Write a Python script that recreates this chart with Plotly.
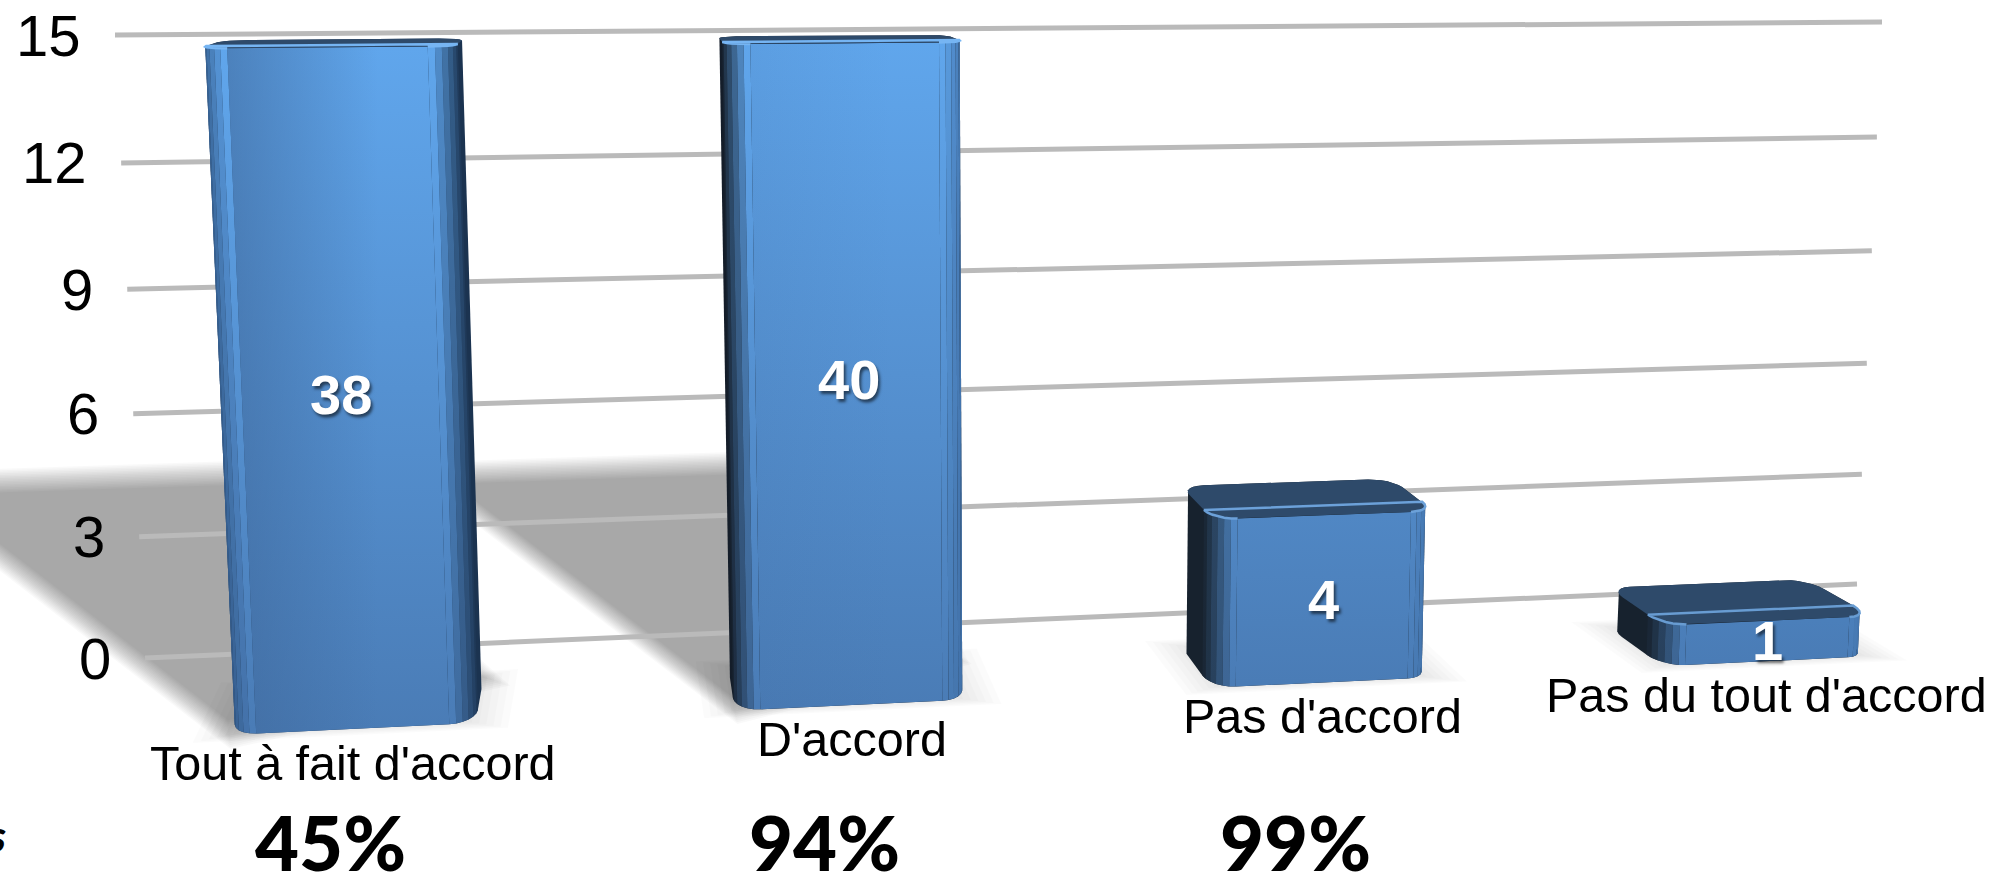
import numpy as np
import plotly.graph_objects as go

# Chart data
categories = ["Tout à fait d'accord", "D'accord", "Pas d'accord", "Pas du tout d'accord"]
values = [38, 40, 4, 1]
tick_values = [0, 3, 6, 9, 12, 15]
shares = ["45%", "94%", "99%"]

AXIS_MAX = 15
W_PX, H_PX = 2012, 872

# Perspective camera: wall corners on the page plus the vanishing point of the depth axis
WALL = {(0, 1): (115, 35), (1, 1): (1882, 22), (0, 0): (145, 658), (1, 0): (1857, 584)}
VP = (616, -92)
D_BACK, D_FRONT = 0.045, 0.10
BAR_HALF = 0.06
R_U, R_D = 0.013, 0.015


def solve_wall():
    rows, rhs = [], []
    for (u, v), (x, y) in WALL.items():
        rows.append([u, v, 1, 0, 0, 0, -u * x, -v * x]); rhs.append(x)
        rows.append([0, 0, 0, u, v, 1, -u * y, -v * y]); rhs.append(y)
    return np.append(np.linalg.solve(np.array(rows, float), np.array(rhs, float)), 1).reshape(3, 3)


H = solve_wall()


def project(u, value, d=0.0):
    X, Y, W = H @ np.array([u, value / AXIS_MAX, 1.0])
    return (X - VP[0] * d) / (W - d), (Y - VP[1] * d) / (W - d)


def hex_rgb(c):
    return np.array([int(c[i:i + 2], 16) for i in (1, 3, 5)], float)


def mix(a, b, t):
    r = hex_rgb(a) * (1 - t) + hex_rgb(b) * t
    return "#%02x%02x%02x" % tuple(int(round(c)) for c in r)


def hull(points):
    pts = sorted(set(points))

    def half(seq):
        out = []
        for p in seq:
            while len(out) > 1 and (out[-1][0] - out[-2][0]) * (p[1] - out[-2][1]) - (out[-1][1] - out[-2][1]) * (p[0] - out[-2][0]) <= 0:
                out.pop()
            out.append(p)
        return out[:-1]

    return half(pts) + half(pts[::-1])


fig = go.Figure()


def poly(points, color=None, grad=None, opacity=None, line=None):
    xs = [p[0] for p in points] + [points[0][0]]
    ys = [p[1] for p in points] + [points[0][1]]
    kw = dict(x=xs, y=ys, mode="lines", fill="toself", line=dict(width=0), hoverinfo="skip", showlegend=False)
    if color:
        kw["fillcolor"] = color
    if grad:
        kw["fillgradient"] = grad
    fig.add_trace(go.Scatter(**kw))


def soft_poly(points, total_alpha, spread, layers=16):
    """Blurred polygon, built from nested translucent copies."""
    cx = np.mean([p[0] for p in points])
    cy = np.mean([p[1] for p in points])
    alpha = 1 - (1 - total_alpha) ** (1 / layers)
    for s in np.linspace(1 + spread, 1 - spread, layers):
        poly([(cx + (x - cx) * s, cy + (y - cy) * s) for x, y in points], color=f"rgba(0,0,0,{alpha:.4f})")


def floor_pt(u, d):
    return project(u, 0, d)


centres = [(i + 0.5) / len(categories) for i in range(len(categories))]

# Cast shadows of the two tall bars: far-left corner on the floor and width of the far edge
shadow_far = {0: (-0.247, -0.33, 0.24), 1: (0.117, -0.314, 0.22)}
for i, (fu, fd, fw) in shadow_far.items():
    c = centres[i]
    pts = [floor_pt(c - BAR_HALF, D_FRONT), floor_pt(fu, fd), floor_pt(fu + fw, fd), floor_pt(c + BAR_HALF, D_BACK)]
    soft_poly(pts, 0.31, 0.10)

# Ambient contact shadow below each bar
for c in centres:
    pts = [floor_pt(c - BAR_HALF, D_BACK), floor_pt(c + BAR_HALF, D_BACK),
           floor_pt(c + BAR_HALF, D_FRONT), floor_pt(c - BAR_HALF, D_FRONT)]
    soft_poly(pts, 0.14, 0.28, layers=10)

# Gridlines
for t in tick_values:
    x0, y0 = project(0, t)
    x1, y1 = project(1, t)
    fig.add_trace(go.Scatter(x=[x0, x1], y=[y0, y1], mode="lines", hoverinfo="skip", showlegend=False,
                             line=dict(color="#bababa", width=5)))

# Bars
FRONT_TOP, FRONT_BOTTOM = "#60a6ec", "#4a7cb6"
TOP_FACE = "#2e4a6a"
left_edge = ["#2f5482", "#131c27", "#16212d", "#16212d"]
right_edge = ["#1b3350", "#3f6ea5", "#3f6ea5", "#3f6ea5"]
side_fill = ["#1b3350", "#141d29", "#17222e", "#17222e"]
left_shade = [0.55, 0.12, 0.0, 0.0]


def arc(cu, cd, a0, a1, n=7):
    return [(cu + R_U * np.cos(a), cd + R_D * np.sin(a)) for a in np.linspace(a0, a1, n)]


def vertical(c_top, c_bot, y_top, y_bot):
    return dict(type="vertical", start=y_top, stop=y_bot, colorscale=[[0, c_top], [1, c_bot]])


for i, (c, val) in enumerate(zip(centres, values)):
    top = min(val, AXIS_MAX)
    uL, uR = c - BAR_HALF, c + BAR_HALF
    c_top = mix(FRONT_BOTTOM, FRONT_TOP, top / AXIS_MAX)

    a_bl = arc(uL + R_U, D_BACK + R_D, np.pi, 1.5 * np.pi)
    a_br = arc(uR - R_U, D_BACK + R_D, 1.5 * np.pi, 2 * np.pi)
    a_fr = arc(uR - R_U, D_FRONT - R_D, 0, 0.5 * np.pi)
    a_fl = arc(uL + R_U, D_FRONT - R_D, 0.5 * np.pi, np.pi)
    outline = a_bl + a_br + a_fr + a_fl

    # Silhouette of the extruded rounded footprint
    sil = hull([project(u, 0, d) for u, d in outline] + [project(u, top, d) for u, d in outline])
    poly(sil, color=side_fill[i])

    y_top = project(c, top, D_FRONT)[1]
    y_bot = project(c, 0, D_FRONT)[1]

    # Rounded vertical edges, painted from the side towards the front
    for arc_pts, edge in ((a_fl[::-1], left_edge[i]), (a_fr, right_edge[i])):
        for k in range(len(arc_pts) - 1):
            t = (k + 1) / (len(arc_pts) - 1)
            (u0, d0), (u1, d1) = arc_pts[k], arc_pts[k + 1]
            quad = [project(u0, 0, d0), project(u0, top, d0), project(u1, top, d1), project(u1, 0, d1)]
            poly(quad, grad=vertical(mix(edge, c_top, t ** 1.5), mix(edge, FRONT_BOTTOM, t ** 1.5), y_top, y_bot))

    # Front panel
    front = [project(uL + R_U, 0, D_FRONT), project(uL + R_U, top, D_FRONT),
             project(uR - R_U, top, D_FRONT), project(uR - R_U, 0, D_FRONT)]
    poly(front, grad=vertical(c_top, FRONT_BOTTOM, y_top, y_bot))

    if left_shade[i] > 0:
        x_l, x_r = front[0][0], front[2][0]
        poly(front, grad=dict(type="horizontal", start=min(x_l, front[1][0]), stop=x_r,
                              colorscale=[[0, f"rgba(60,100,150,{left_shade[i]})"], [0.75, "rgba(60,100,150,0)"],
                                          [1, "rgba(60,100,150,0)"]]))

    # Top face and its bright rounded rim
    poly([project(u, top, d) for u, d in outline], color=TOP_FACE)
    rim = [project(u, top, d) for u, d in a_fr[::-1]] + [project(u, top, d) for u, d in a_fl[::-1]]
    fig.add_trace(go.Scatter(x=[p[0] for p in rim], y=[p[1] for p in rim], mode="lines", hoverinfo="skip",
                             showlegend=False, line=dict(color=mix(c_top, "#9fd2ff", 0.35), width=2.5)))

# Text
annotations = []
for t in tick_values:
    x, y = project(0, t)
    annotations.append(dict(x=x, y=y, text=str(t), xshift=-32, xanchor="right", yanchor="middle", showarrow=False,
                            font=dict(family="Liberation Sans", size=58, color="#000000")))

for c, val, name in zip(centres, values, categories):
    top = min(val, AXIS_MAX)
    x, y = project(c, top / 2, D_FRONT)
    annotations.append(dict(x=x, y=y, text=str(val), xanchor="center", yanchor="middle", showarrow=False,
                            font=dict(family="Liberation Sans", size=56, color="#ffffff", weight=700,
                                      shadow="2px 3px 3px rgba(0,0,0,0.55)")))
    x, y = project(c, 0, D_FRONT)
    annotations.append(dict(x=x, y=y, text=name, yshift=-34, xanchor="center", yanchor="middle", showarrow=False,
                            font=dict(family="Liberation Sans", size=48.5, color="#000000")))

share_x = [330, 824, 1295]
for x, s in zip(share_x, shares):
    annotations.append(dict(x=x, y=841, text=s, xanchor="center", yanchor="middle", showarrow=False,
                            font=dict(family="Lato", size=76, color="#000000", weight=900)))
annotations.append(dict(x=8, y=835, text="s", xanchor="right", yanchor="middle", showarrow=False,
                        font=dict(family="Lato", size=44, color="#000000", weight=900, style="italic")))

fig.update_layout(
    width=W_PX, height=H_PX, margin=dict(l=0, r=0, t=0, b=0),
    paper_bgcolor="#ffffff", plot_bgcolor="#ffffff", showlegend=False, annotations=annotations,
    xaxis=dict(range=[0, W_PX], visible=False, fixedrange=True),
    yaxis=dict(range=[H_PX, 0], visible=False, fixedrange=True),
)
fig.write_html("out.html")
